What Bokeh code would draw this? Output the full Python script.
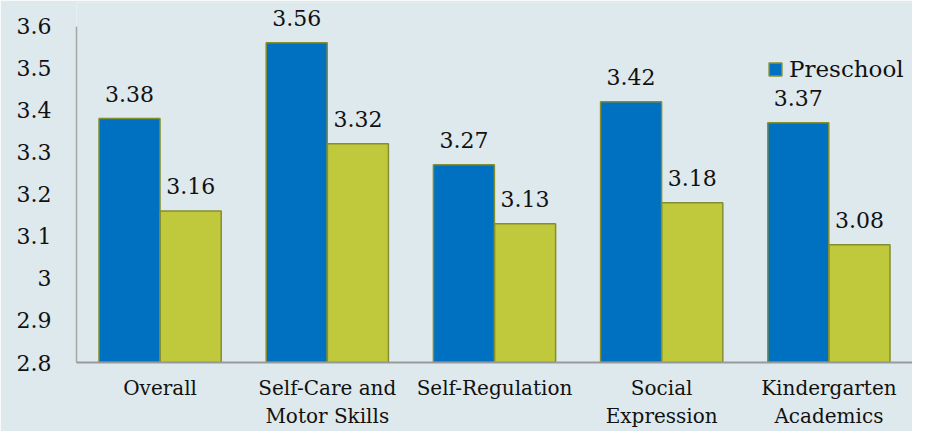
from bokeh.plotting import figure
from bokeh.models import (FactorRange, Range1d, ColumnDataSource, LabelSet,
                          FixedTicker, Legend, LegendItem)
from bokeh.transform import dodge
from bokeh.core.properties import value
from bokeh.embed import file_html
from bokeh.resources import INLINE

categories = ["Overall", "Self-Care and\nMotor Skills", "Self-Regulation",
              "Social\nExpression", "Kindergarten\nAcademics"]
preschool = [3.38, 3.56, 3.27, 3.42, 3.37]
kindergarten = [3.16, 3.32, 3.13, 3.18, 3.08]
y_ticks = [2.8, 2.9, 3.0, 3.1, 3.2, 3.3, 3.4, 3.5, 3.6]
y_tick_labels = ["2.8", "2.9", "3", "3.1", "3.2", "3.3", "3.4", "3.5", "3.6"]

BG = "#DEE9ED"
BLUE = "#0070C0"
GREEN = "#BFC93B"
OUTLINE = "#858E2F"
FONT = "DejaVu Serif"

src = ColumnDataSource(dict(
    cat=categories,
    pre=preschool,
    kin=kindergarten,
    pre_lbl=[f"{v:.2f}" for v in preschool],
    kin_lbl=[f"{v:.2f}" for v in kindergarten],
))

p = figure(x_range=FactorRange(*categories, range_padding=0),
           y_range=Range1d(2.8, 3.656),
           width=912, height=431,
           output_backend="svg", toolbar_location=None,
           min_border_left=76, min_border_right=0,
           min_border_top=2, min_border_bottom=66,
           background_fill_color=BG, border_fill_color=BG,
           outline_line_color=None)

p.xgrid.visible = False
p.ygrid.visible = False

off = 0.183
bw = 0.365
r1 = p.vbar(x=dodge("cat", -off, range=p.x_range), top="pre", bottom=2.8,
            width=bw, source=src, fill_color=BLUE, line_color=OUTLINE,
            line_width=1.5)
r2 = p.vbar(x=dodge("cat", off, range=p.x_range), top="kin", bottom=2.8,
            width=bw, source=src, fill_color=GREEN, line_color=OUTLINE,
            line_width=1.5)

for xs, ys, ts in ((-off, "pre", "pre_lbl"), (off, "kin", "kin_lbl")):
    lbl = LabelSet(x=dodge("cat", xs, range=p.x_range), y=ys, text=ts,
                   source=src, text_align="center",
                   text_baseline="alphabetic", y_offset=17,
                   text_font=value(FONT), text_font_size=value("22px"),
                   text_color="#111111")
    p.add_layout(lbl)

# axes
p.yaxis.ticker = FixedTicker(ticks=y_ticks)
p.yaxis.bounds = (y_ticks[0], y_ticks[-1])
p.yaxis.major_label_overrides = dict(zip(y_ticks, y_tick_labels))
p.yaxis.major_label_text_font = FONT
p.yaxis.major_label_text_font_size = "22px"
p.yaxis.major_label_text_color = "#111111"
p.yaxis.major_tick_line_color = None
p.yaxis.minor_tick_line_color = None
p.yaxis.major_tick_out = 0
p.yaxis.major_tick_in = 0
p.yaxis.major_label_standoff = 25
p.yaxis.axis_line_color = "#A6A6A6"
p.yaxis.axis_line_width = 1.5

p.xaxis.major_label_text_font = FONT
p.xaxis.major_label_text_font_size = "20px"
p.xaxis.major_label_text_color = "#111111"
p.xaxis.major_tick_line_color = None
p.xaxis.minor_tick_line_color = None
p.xaxis.major_tick_out = 0
p.xaxis.major_tick_in = 0
p.xaxis.major_label_standoff = 13
p.xaxis.axis_line_color = "#999999"
p.xaxis.axis_line_width = 2

legend = Legend(items=[LegendItem(label="Preschool", renderers=[r1])],
                location=(691, 280), padding=0, margin=0, spacing=0,
                glyph_width=16, glyph_height=16, label_height=16,
                label_standoff=6, label_text_font=FONT,
                label_text_font_size="23px", label_text_color="#111111",
                border_line_color=None, background_fill_alpha=0)
p.add_layout(legend)

open("out.html", "w").write(file_html(p, INLINE))
